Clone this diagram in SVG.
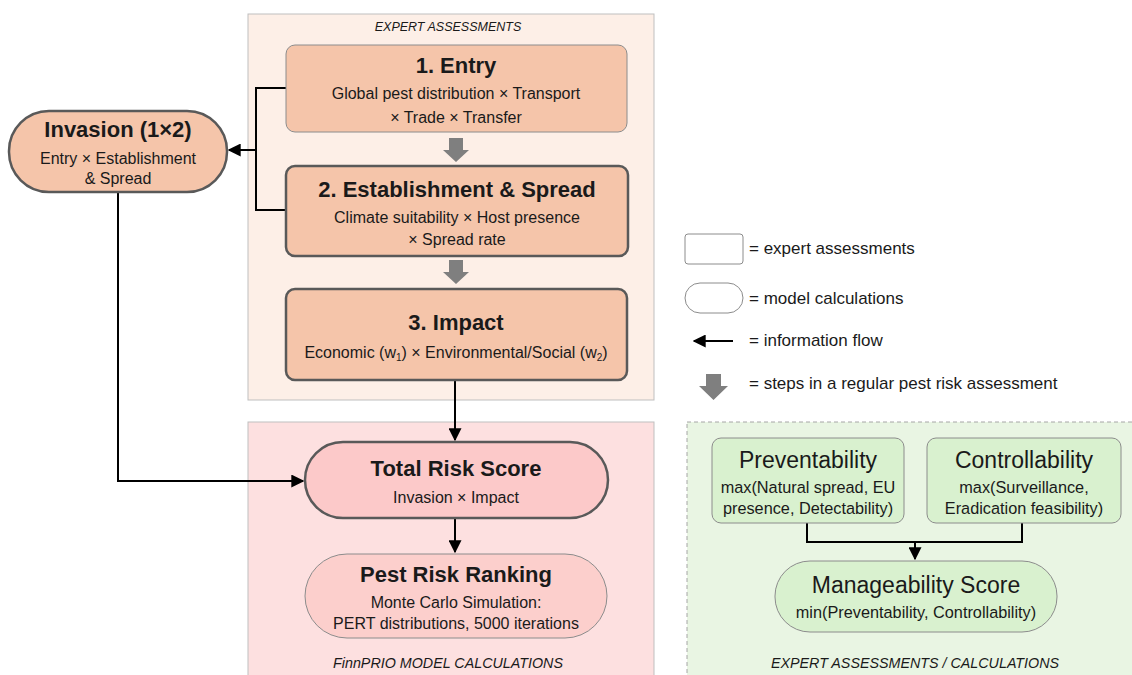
<svg xmlns="http://www.w3.org/2000/svg" width="1132" height="675" viewBox="0 0 1132 675">
<defs>
<style>
text{font-family:"Liberation Sans",Arial,sans-serif;fill:#1a1a1a;text-anchor:middle}
.t{font-weight:bold;font-size:22px}
.s{font-size:16px}
.lab{font-style:italic;font-size:12.5px}
.lab2{font-style:italic;font-size:14.3px}
.g{font-size:23px}
.gs{font-size:16.3px}
.leg{font-size:17px;text-anchor:start}
.ln{fill:none;stroke:#000;stroke-width:2}
.blk{fill:#7f7f7f}
</style>
<marker id="ah" viewBox="0 0 10 10" refX="9" refY="5" markerWidth="6.5" markerHeight="6.5" orient="auto-start-reverse"><path d="M0,0 L10,5 L0,10 z" fill="#000"/></marker>
</defs>
<rect width="1132" height="675" fill="#fff"/>
<g id="panel-expert">
<rect x="248" y="14" width="406" height="386" fill="#fdefe7" stroke="#bfbfbf" stroke-width="1"/>
<text class="lab" x="448" y="31">EXPERT ASSESSMENTS</text>
</g>
<g id="panel-model">
<rect x="248" y="422" width="406" height="260" fill="#fde0e0" stroke="#bfbfbf" stroke-width="1"/>
<text class="lab2" x="448" y="668">FinnPRIO MODEL CALCULATIONS</text>
</g>
<g id="panel-manage">
<rect x="687" y="422" width="450" height="260" fill="#e9f5e3" stroke="#a6a6a6" stroke-width="1" stroke-dasharray="4,3"/>
<text class="lab2" x="915" y="668">EXPERT ASSESSMENTS / CALCULATIONS</text>
</g>
<g id="connectors">
<polyline class="ln" points="286,88 256,88 256,210 286,210"/>
<line class="ln" x1="256" y1="150" x2="229" y2="150" marker-end="url(#ah)"/>
<polyline class="ln" points="118,192 118,481 303,481" marker-end="url(#ah)"/>
<line class="ln" x1="455" y1="380" x2="455" y2="440" marker-end="url(#ah)"/>
<line class="ln" x1="455" y1="518" x2="455" y2="552" marker-end="url(#ah)"/>
<polyline class="ln" points="807,523 807,542 1022,542 1022,523"/>
<line class="ln" x1="915" y1="542" x2="915" y2="559" marker-end="url(#ah)"/>
<path class="blk" d="M449,138 H463 V150 H469 L456,162 L443,150 H449 Z"/>
<path class="blk" d="M449,260 H463 V272 H469 L456,284 L443,272 H449 Z"/>
</g>
<g id="entry">
<rect x="286" y="45" width="341" height="87" rx="9" fill="#f5c5aa" stroke="#8c8c8c" stroke-width="1"/>
<text class="t" x="456" y="73">1. Entry</text>
<text class="s" x="456" y="99">Global pest distribution × Transport</text>
<text class="s" x="456" y="123">× Trade × Transfer</text>
</g>
<g id="establishment">
<rect x="286" y="166" width="342" height="90" rx="9" fill="#f5c5aa" stroke="#595959" stroke-width="2.5"/>
<text class="t" x="457" y="197" font-size="21">2. Establishment &amp; Spread</text>
<text class="s" x="457" y="223">Climate suitability × Host presence</text>
<text class="s" x="457" y="245">× Spread rate</text>
</g>
<g id="impact">
<rect x="286" y="289" width="341" height="91" rx="9" fill="#f5c5aa" stroke="#595959" stroke-width="2.5"/>
<text class="t" x="456" y="330">3. Impact</text>
<text class="s" x="456" y="358">Economic (w<tspan font-size="10" dy="3">1</tspan><tspan dy="-3">) × Environmental/Social (w</tspan><tspan font-size="10" dy="3">2</tspan><tspan dy="-3">)</tspan></text>
</g>
<g id="invasion">
<rect x="9" y="111" width="218" height="81" rx="40" fill="#f5c5aa" stroke="#595959" stroke-width="2.5"/>
<text class="t" x="118" y="137" font-size="21">Invasion (1×2)</text>
<text class="s" x="118" y="164">Entry × Establishment</text>
<text class="s" x="118" y="184">&amp; Spread</text>
</g>
<g id="total-risk">
<rect x="305" y="442" width="303" height="76" rx="38" fill="#fcc9c9" stroke="#595959" stroke-width="2.5"/>
<text class="t" x="456" y="476">Total Risk Score</text>
<text class="s" x="456" y="503">Invasion × Impact</text>
</g>
<g id="ranking">
<rect x="305" y="554" width="302" height="84" rx="42" fill="#fccfcc" stroke="#8c8c8c" stroke-width="1"/>
<text class="t" x="456" y="582">Pest Risk Ranking</text>
<text class="s" x="456" y="608" font-size="17">Monte Carlo Simulation:</text>
<text class="s" x="456" y="629" font-size="17">PERT distributions, 5000 iterations</text>
</g>
<g id="preventability">
<rect x="712" y="438" width="192" height="85" rx="9" fill="#d9f1cf" stroke="#8c8c8c" stroke-width="1"/>
<text class="g" x="808" y="468">Preventability</text>
<text class="gs" x="808" y="493">max(Natural spread, EU</text>
<text class="gs" x="808" y="514">presence, Detectability)</text>
</g>
<g id="controllability">
<rect x="927" y="438" width="194" height="85" rx="9" fill="#d9f1cf" stroke="#8c8c8c" stroke-width="1"/>
<text class="g" x="1024" y="468">Controllability</text>
<text class="gs" x="1024" y="493">max(Surveillance,</text>
<text class="gs" x="1024" y="514">Eradication feasibility)</text>
</g>
<g id="manageability">
<rect x="775" y="561" width="282" height="71" rx="35" fill="#d9f1cf" stroke="#8c8c8c" stroke-width="1"/>
<text class="g" x="916" y="593">Manageability Score</text>
<text class="gs" x="916" y="618">min(Preventability, Controllability)</text>
</g>
<g id="legend">
<rect x="685" y="234" width="58" height="30" rx="3" fill="#fff" stroke="#8c8c8c" stroke-width="1"/>
<text class="leg" x="749" y="254">= expert assessments</text>
<rect x="685" y="283" width="58" height="30" rx="15" fill="#fff" stroke="#8c8c8c" stroke-width="1"/>
<text class="leg" x="749" y="304">= model calculations</text>
<line class="ln" x1="733" y1="341" x2="694" y2="341" marker-end="url(#ah)"/>
<text class="leg" x="749" y="346">= information flow</text>
<path class="blk" d="M706,374 H721 V386 H728 L713.5,400 L699,386 H706 Z"/>
<text class="leg" x="749" y="389">= steps in a regular pest risk assessment</text>
</g>
</svg>
